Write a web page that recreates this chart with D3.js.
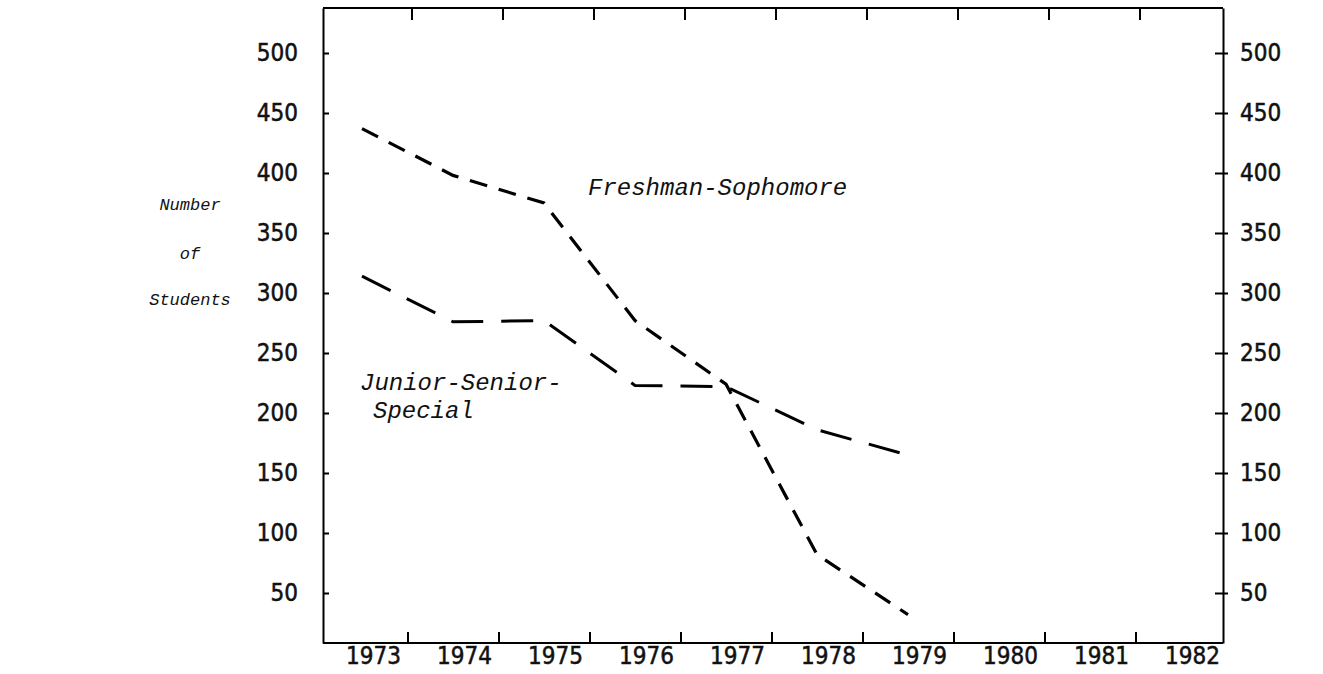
<!DOCTYPE html>
<html>
<head>
<meta charset="utf-8">
<script src="https://cdn.jsdelivr.net/npm/d3@7"></script>
<style>
  body { margin: 0; background: #fff; }
  .num text { font-family: "DejaVu Sans Condensed", "DejaVu Sans", sans-serif; font-stretch: condensed; font-size: 24px; fill: #111; stroke: #111; stroke-width: 0.5px; }
  .lbl { font-family: "Liberation Mono", "Courier New", monospace; font-style: italic; fill: #111; }
</style>
</head>
<body>
<div id="chart"></div>
<script>
// chart size
const width = 1323, height = 674;
const plot = { left: 323, right: 1223, top: 8, bottom: 643 };

// data
const years = [1973, 1974, 1975, 1976, 1977, 1978, 1979, 1980, 1981, 1982];
const dataYears = [1973, 1974, 1975, 1976, 1977, 1978, 1979];
const freshSoph = [437, 398, 375, 277, 224, 82, 32];
const juniorSenior = [314, 276, 277, 223, 222, 186, 165];
const yTicks = [50, 100, 150, 200, 250, 300, 350, 400, 450, 500];

const svg = d3.select("#chart").append("svg")
    .attr("width", width)
    .attr("height", height);

const x = d3.scaleLinear().domain([1973, 1982]).range([362, 1181]);
const y = d3.scaleLinear().domain([8.33, 537.5]).range([plot.bottom, plot.top]);

// left axis, ticks cross the line
const left = svg.append("g")
    .attr("class", "num")
    .attr("transform", `translate(${plot.left},0)`)
    .call(d3.axisLeft(y).tickValues(yTicks).tickSizeOuter(0).tickSizeInner(8).tickPadding(17));
left.selectAll(".tick line").attr("x2", 6);

// right axis
const right = svg.append("g")
    .attr("class", "num")
    .attr("transform", `translate(${plot.right},0)`)
    .call(d3.axisRight(y).tickValues(yTicks).tickSizeOuter(0).tickSizeInner(5).tickPadding(12));
right.selectAll(".tick line").attr("x1", -8);

// bottom axis: ticks between years, labels under years
svg.append("g")
    .attr("class", "num")
    .attr("transform", `translate(0,${plot.bottom})`)
    .call(d3.axisBottom(x).tickValues(years.slice(0, -1).map(d => d + 0.5))
        .tickSizeOuter(0).tickSizeInner(-11).tickFormat(""))
    .select(".domain").remove();

const bottomLabels = svg.append("g")
    .attr("class", "num")
    .attr("transform", `translate(11,${plot.bottom})`)
    .call(d3.axisBottom(x).tickValues(years).tickSize(0).tickPadding(4).tickFormat(d3.format("d")));
bottomLabels.select(".domain").remove();

// frame lines (bottom + top)
svg.append("line")
    .attr("x1", plot.left).attr("x2", plot.right)
    .attr("y1", plot.bottom).attr("y2", plot.bottom)
    .attr("stroke", "#000").attr("stroke-width", 2);

svg.append("g")
    .attr("transform", `translate(4,${plot.top})`)
    .call(d3.axisTop(x).tickValues(years.slice(0, -1).map(d => d + 0.5))
        .tickSizeOuter(0).tickSizeInner(-12).tickFormat(""))
    .select(".domain").remove();
svg.append("line")
    .attr("x1", plot.left).attr("x2", plot.right)
    .attr("y1", plot.top).attr("y2", plot.top)
    .attr("stroke", "#000").attr("stroke-width", 2);

svg.selectAll(".domain").attr("stroke-width", 2);
svg.selectAll(".tick line").attr("stroke-width", 2);

// the two dashed series
const line = d3.line()
    .x((d, i) => x(dataYears[i]))
    .y(d => y(d));

svg.append("path")
    .datum(freshSoph)
    .attr("d", line)
    .attr("fill", "none")
    .attr("stroke", "#000")
    .attr("stroke-width", 3.2)
    .attr("stroke-dasharray", "18,12");

svg.append("path")
    .datum(juniorSenior)
    .attr("d", line)
    .attr("fill", "none")
    .attr("stroke", "#000")
    .attr("stroke-width", 3)
    .attr("stroke-dasharray", "32,18");

// series labels
svg.append("text").attr("class", "lbl")
    .attr("x", 588).attr("y", 195).style("font-size", "24px")
    .text("Freshman-Sophomore");
svg.append("text").attr("class", "lbl")
    .attr("x", 360).attr("y", 390).style("font-size", "24px")
    .text("Junior-Senior-");
svg.append("text").attr("class", "lbl")
    .attr("x", 373).attr("y", 418).style("font-size", "24px")
    .text("Special");

// y title
const title = ["Number", "of", "Students"];
const titleY = [210, 259, 305];
svg.selectAll("text.ytitle")
    .data(title)
    .enter().append("text")
    .attr("class", "lbl ytitle")
    .attr("x", 190)
    .attr("y", (d, i) => titleY[i])
    .attr("text-anchor", "middle")
    .style("font-size", "17px")
    .text(d => d);
</script>
</body>
</html>
